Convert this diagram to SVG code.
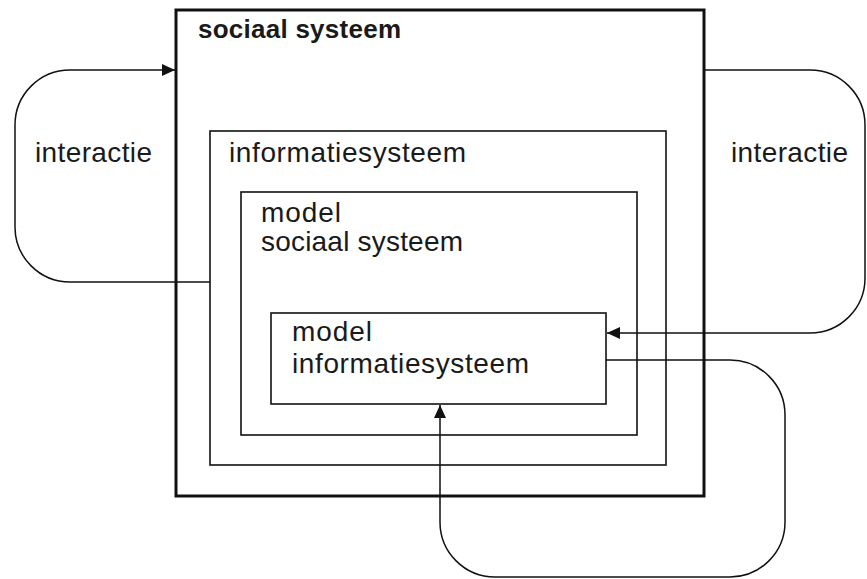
<svg xmlns="http://www.w3.org/2000/svg" width="867" height="579" viewBox="0 0 867 579">
<style>
text{font-family:"Liberation Sans",Arial,sans-serif;font-size:28px;fill:#1a1a1a}
.b{font-weight:bold;font-size:26px}
.box{fill:none;stroke:#111;stroke-width:1.6}
.thick{stroke-width:3}
.c{fill:none;stroke:#111;stroke-width:1.5}
</style>
<defs>
<marker id="ah" viewBox="0 0 13 12" refX="13" refY="6" markerWidth="13" markerHeight="12" markerUnits="userSpaceOnUse" orient="auto">
<path d="M0,0 L13,6 L0,12 Z" fill="#111"/>
</marker>
</defs>
<rect width="867" height="579" fill="#fff"/>
<g id="connectors">
<path class="c" d="M210,282 H70 A55,55 0 0 1 15,227 V125 A55,55 0 0 1 70,70 H175" marker-end="url(#ah)"/>
<path class="c" d="M704,70 H810 A55,55 0 0 1 865,125 V278 A55,55 0 0 1 810,333 H607" marker-end="url(#ah)"/>
<path class="c" d="M606,360 H730 A55,55 0 0 1 785,415 V522 A55,55 0 0 1 730,577 H495 A55,55 0 0 1 440,522 V405" marker-end="url(#ah)"/>
</g>
<g id="sociaal-systeem">
<rect class="box thick" x="176" y="10" width="528" height="486"/>
<text class="b" x="198" y="38" textLength="203">sociaal systeem</text>
</g>
<g id="interactie-links"><text x="35" y="162" textLength="117">interactie</text></g>
<g id="interactie-rechts"><text x="731" y="162" textLength="117">interactie</text></g>
<g id="informatiesysteem">
<rect class="box" x="210" y="131" width="456" height="334"/>
<text x="229" y="162" textLength="237">informatiesysteem</text>
</g>
<g id="model-sociaal-systeem">
<rect class="box" x="241" y="192" width="396" height="243"/>
<text x="261" y="222" textLength="80">model</text>
<text x="261" y="251" textLength="202">sociaal systeem</text>
</g>
<g id="model-informatiesysteem">
<rect class="box" x="271" y="313" width="335" height="91"/>
<text x="292" y="341" textLength="80">model</text>
<text x="292" y="373" textLength="237">informatiesysteem</text>
</g>
</svg>
